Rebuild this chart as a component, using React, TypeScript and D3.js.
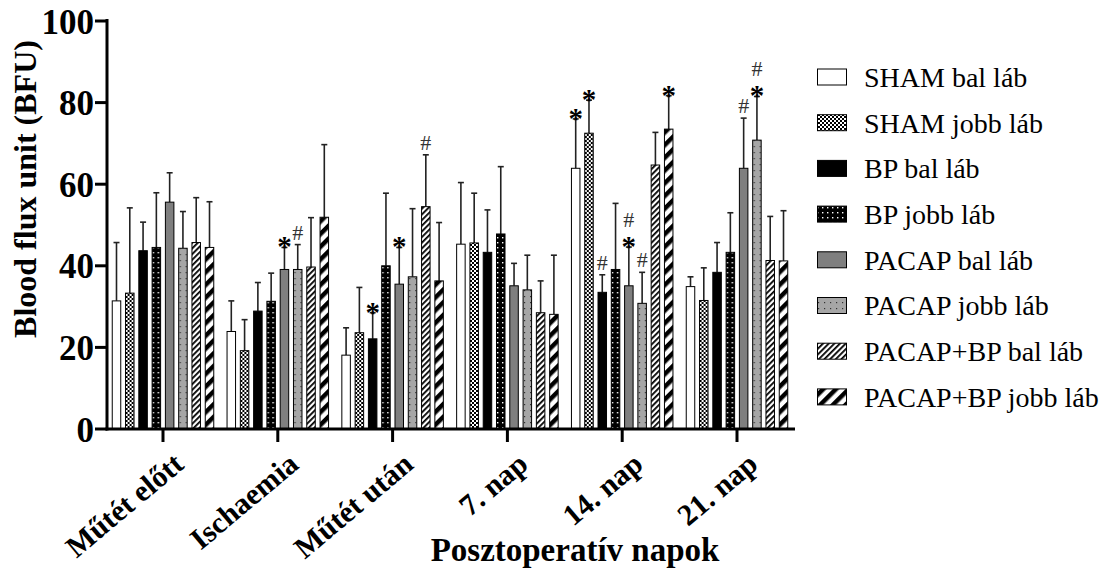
import * as d3 from 'd3';

const categories = ['Műtét előtt', 'Ischaemia', 'Műtét után', '7. nap', '14. nap', '21. nap'];
const seriesNames = [
  'SHAM bal láb',
  'SHAM jobb láb',
  'BP bal láb',
  'BP jobb láb',
  'PACAP bal láb',
  'PACAP jobb láb',
  'PACAP+BP bal láb',
  'PACAP+BP jobb láb',
];

// mean values per series, one per category
const shamBal = [31.4, 23.9, 18.1, 45.3, 63.9, 34.9];
const shamJobb = [33.3, 19.2, 23.6, 45.6, 72.5, 31.5];
const bpBal = [43.7, 28.9, 22.1, 43.3, 33.5, 38.4];
const bpJobb = [44.5, 31.3, 40.0, 47.8, 39.1, 43.3];
const pacapBal = [55.6, 39.1, 35.5, 35.1, 35.1, 63.9];
const pacapJobb = [44.3, 39.1, 37.3, 34.1, 30.8, 70.8];
const pacapBpBal = [45.7, 39.7, 54.5, 28.5, 64.7, 41.3];
const pacapBpJobb = [44.5, 51.9, 36.3, 28.1, 73.5, 41.2];

// upper error (SD)
const shamBalSd = [14.3, 7.5, 6.7, 15.1, 12.1, 2.4];
const shamJobbSd = [20.9, 7.6, 11.1, 12.2, 8.1, 8.0];
const bpBalSd = [7.0, 7.0, 6.4, 10.4, 4.3, 7.3];
const bpJobbSd = [13.4, 6.9, 17.8, 16.5, 16.2, 9.7];
const pacapBalSd = [7.2, 5.4, 9.0, 5.5, 9.5, 12.3];
const pacapJobbSd = [9.0, 6.1, 16.7, 8.5, 7.6, 10.7];
const pacapBpBalSd = [11.0, 12.1, 12.7, 7.8, 8.0, 10.8];
const pacapBpJobbSd = [11.2, 17.8, 14.3, 14.5, 8.2, 12.3];

const yTicks = [0, 20, 40, 60, 80, 100];

// significance marks: [category index, series index, symbols bottom-up]
const marks: [number, number, string[]][] = [
  [1, 4, ['*']],
  [1, 5, ['#']],
  [2, 2, ['*']],
  [2, 4, ['*']],
  [2, 6, ['#']],
  [4, 0, ['*']],
  [4, 1, ['*']],
  [4, 2, ['#']],
  [4, 4, ['*', '#']],
  [4, 5, ['#']],
  [4, 7, ['*']],
  [5, 4, ['#']],
  [5, 5, ['*', '#']],
];

const means = [shamBal, shamJobb, bpBal, bpJobb, pacapBal, pacapJobb, pacapBpBal, pacapBpJobb];
const sds = [shamBalSd, shamJobbSd, bpBalSd, bpJobbSd, pacapBalSd, pacapJobbSd, pacapBpBalSd, pacapBpJobbSd];
const fills = [
  '#ffffff',
  'url(#checker)',
  '#000000',
  'url(#dotsBlack)',
  '#7f7f7f',
  'url(#dotsGrey)',
  'url(#thinStripes)',
  'url(#thickStripes)',
];

const font = "'Liberation Serif', 'Times New Roman', serif";

export default function App() {
  const width = 1107;
  const height = 571;

  const y = d3.scaleLinear().domain([0, 100]).range([429, 21]);
  const x0 = d3.scaleBand().domain(categories).range([105.6, 794.4]).paddingInner(0);
  const x1 = d3
    .scaleBand()
    .domain(seriesNames)
    .range([0, x0.bandwidth()])
    .paddingInner(0.36)
    .paddingOuter(0.5);

  const bw = x1.bandwidth();

  return (
    <svg width={width} height={height} style={{ display: 'block', position: 'absolute', left: 0, top: 0 }}>
      <defs>
        <pattern id="checker" width={4} height={4} patternUnits="userSpaceOnUse">
          <rect width={4} height={4} fill="#fff" />
          <rect width={2} height={2} fill="#000" />
          <rect x={2} y={2} width={2} height={2} fill="#000" />
        </pattern>
        <pattern id="dotsBlack" width={5} height={5} patternUnits="userSpaceOnUse">
          <rect width={5} height={5} fill="#000" />
          <rect x={2} y={2} width={1.4} height={1.4} fill="#fff" />
        </pattern>
        <pattern id="dotsGrey" width={6} height={6} patternUnits="userSpaceOnUse">
          <rect width={6} height={6} fill="#a6a6a6" />
          <rect x={2} y={2} width={1.2} height={1.2} fill="#333" />
        </pattern>
        <pattern id="thinStripes" width={4} height={4} patternUnits="userSpaceOnUse" patternTransform="rotate(45)">
          <rect width={4} height={4} fill="#fff" />
          <rect width={1.8} height={4} fill="#000" />
        </pattern>
        <pattern id="thickStripes" width={9} height={9} patternUnits="userSpaceOnUse" patternTransform="rotate(45)">
          <rect width={9} height={9} fill="#fff" />
          <rect width={4.5} height={9} fill="#000" />
        </pattern>
      </defs>

      {/* bars and error bars */}
      {categories.map((cat, ci) => (
        <g key={cat} transform={`translate(${x0(cat)},0)`}>
          {seriesNames.map((s, si) => {
            const v = means[si][ci];
            const top = y(v + sds[si][ci]);
            const bx = x1(s) as number;
            const cx = bx + bw / 2;
            return (
              <g key={s}>
                <line x1={cx} x2={cx} y1={y(v)} y2={top} stroke="#222" strokeWidth={1.6} />
                <line x1={cx - 3} x2={cx + 3} y1={top} y2={top} stroke="#222" strokeWidth={1.6} />
                <rect x={bx} y={y(v)} width={bw} height={y(0) - y(v)} fill={fills[si]} stroke="#000" strokeWidth={1} />
              </g>
            );
          })}
        </g>
      ))}

      {/* significance marks */}
      {marks.map(([ci, si, syms], k) => {
        const cx = (x0(categories[ci]) as number) + (x1(seriesNames[si]) as number) + bw / 2;
        let base = y(means[si][ci] + sds[si][ci]);
        return (
          <g key={k}>
            {syms.map((sym, j) => {
              let ty: number;
              if (sym === '*') {
                ty = base + 9;
                base = base - 15;
              } else {
                ty = base - 5;
                base = base - 18;
              }
              return sym === '*' ? (
                <text key={j} x={cx} y={ty} textAnchor="middle" fontFamily={font} fontWeight="bold" fontSize={29} fill="#000">
                  *
                </text>
              ) : (
                <text key={j} x={cx} y={ty} textAnchor="middle" fontFamily={font} fontSize={22} fill="#333">
                  #
                </text>
              );
            })}
          </g>
        );
      })}

      {/* axes */}
      <line x1={107} x2={107} y1={19} y2={430.5} stroke="#000" strokeWidth={3} />
      <line x1={105.5} x2={795} y1={429} y2={429} stroke="#000" strokeWidth={3} />
      {yTicks.map((t) => (
        <g key={t}>
          <line x1={95} x2={107} y1={y(t)} y2={y(t)} stroke="#000" strokeWidth={3} />
          <text
            x={94}
            y={y(t)}
            dy="0.36em"
            textAnchor="end"
            fontFamily={font}
            fontWeight="bold"
            fontSize={35}
            fill="#000"
          >
            {t}
          </text>
        </g>
      ))}
      {categories.map((cat) => {
        const cx = (x0(cat) as number) + x0.bandwidth() / 2;
        return (
          <g key={cat}>
            <line x1={cx} x2={cx} y1={429} y2={442} stroke="#000" strokeWidth={3} />
            <text
              transform={`translate(${cx + 9},${451}) rotate(-40)`}
              textAnchor="end"
              dy="0.7em"
              fontFamily={font}
              fontWeight="bold"
              fontSize={30}
              fill="#000"
            >
              {cat}
            </text>
          </g>
        );
      })}
      <text
        transform="translate(36,189) rotate(-90)"
        textAnchor="middle"
        fontFamily={font}
        fontWeight="bold"
        fontSize={32}
        fill="#000"
      >
        Blood flux unit (BFU)
      </text>
      <text x={575} y={561} textAnchor="middle" fontFamily={font} fontWeight="bold" fontSize={33} fill="#000">
        Posztoperatív napok
      </text>

      {/* legend */}
      {seriesNames.map((s, si) => {
        const ly = 77 + si * 45.7;
        return (
          <g key={s}>
            <rect x={817.5} y={ly - 8} width={29} height={16} fill={fills[si]} stroke="#000" strokeWidth={1} />
            <text x={864} y={ly} dy="0.35em" fontFamily={font} fontSize={28} fill="#000">
              {s}
            </text>
          </g>
        );
      })}
    </svg>
  );
}
